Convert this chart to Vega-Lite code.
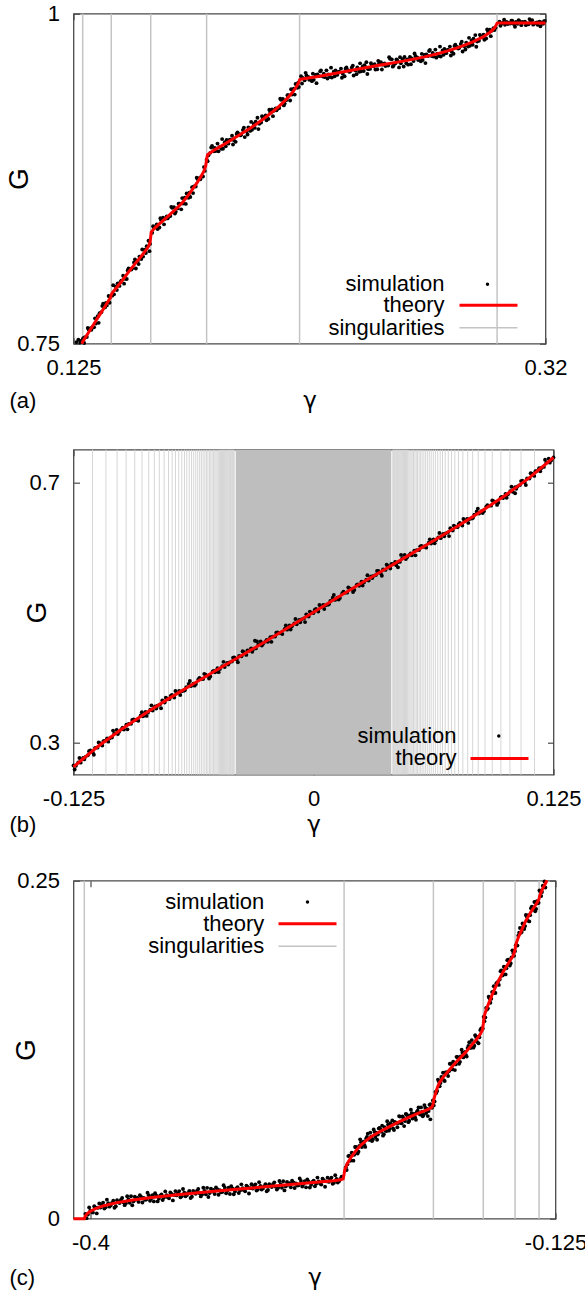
{
  "$schema": "https://vega.github.io/schema/vega-lite/v6.json",
  "background": "white",
  "padding": {"left": 4.5, "top": 1.7, "right": 0, "bottom": 0},
  "bounds": "flush",
  "spacing": 106,
  "resolve": {"scale": {"color": "independent"}, "legend": {"color": "independent"}},
  "config": {
    "font": "Liberation Sans",
    "view": {"stroke": "#4a4a4a", "strokeWidth": 1.3},
    "axis": {
      "domain": false, "grid": false,
      "tickColor": "#4a4a4a", "tickSize": -6, "tickWidth": 1.2,
      "labelFont": "Liberation Sans", "labelFontSize": 22, "labelColor": "#000",
      "labelPadding": 20, "labelFlush": false, "labelOverlap": false,
      "titleFont": "Liberation Sans", "titleFontWeight": "normal", "titleColor": "#000"
    },
    "legend": {
      "labelFont": "Liberation Sans", "labelFontSize": 22, "labelColor": "#000",
      "labelAlign": "right", "padding": 0, "title": null, "symbolOpacity": 1
    },
    "title": {"font": "Liberation Sans", "fontSize": 22, "fontWeight": "normal", "color": "#000"}
  },
  "datasets": {
    "sgA": [{"g":0.1288},{"g":0.1406},{"g":0.1569},{"g":0.18},{"g":0.2184},{"g":0.3}],
    "thA": [
      {"g":0.1285,"G":0.75},{"g":0.1288,"G":0.7515},{"g":0.13,"G":0.755},{"g":0.132,"G":0.7608},{"g":0.134,"G":0.7666},{"g":0.136,"G":0.7724},{"g":0.138,"G":0.7782},{"g":0.1395,"G":0.7826},{"g":0.1403,"G":0.785},{"g":0.1406,"G":0.787},
      {"g":0.141,"G":0.7885},{"g":0.143,"G":0.793},{"g":0.145,"G":0.7975},{"g":0.147,"G":0.8025},{"g":0.149,"G":0.8072},{"g":0.151,"G":0.8118},{"g":0.153,"G":0.8163},{"g":0.155,"G":0.821},{"g":0.156,"G":0.8238},{"g":0.1566,"G":0.8265},{"g":0.1569,"G":0.831},
      {"g":0.1571,"G":0.8345},{"g":0.158,"G":0.8365},{"g":0.16,"G":0.84},{"g":0.162,"G":0.8433},{"g":0.164,"G":0.8465},{"g":0.166,"G":0.8498},{"g":0.168,"G":0.8532},{"g":0.17,"G":0.857},{"g":0.172,"G":0.8615},{"g":0.174,"G":0.8665},{"g":0.176,"G":0.8718},{"g":0.1775,"G":0.8762},{"g":0.1788,"G":0.8805},{"g":0.1796,"G":0.8845},{"g":0.18,"G":0.89},
      {"g":0.1804,"G":0.8932},{"g":0.183,"G":0.8965},{"g":0.186,"G":0.8997},{"g":0.189,"G":0.903},{"g":0.192,"G":0.9064},{"g":0.195,"G":0.9098},{"g":0.198,"G":0.9133},{"g":0.201,"G":0.917},{"g":0.204,"G":0.921},{"g":0.207,"G":0.9253},{"g":0.21,"G":0.93},{"g":0.213,"G":0.9353},{"g":0.2155,"G":0.9405},{"g":0.2172,"G":0.945},{"g":0.2181,"G":0.948},{"g":0.2184,"G":0.95},
      {"g":0.2188,"G":0.9504},{"g":0.222,"G":0.9513},{"g":0.226,"G":0.9525},{"g":0.23,"G":0.9538},{"g":0.235,"G":0.9554},{"g":0.24,"G":0.9571},{"g":0.245,"G":0.9588},{"g":0.25,"G":0.9605},{"g":0.255,"G":0.9621},{"g":0.26,"G":0.9637},{"g":0.265,"G":0.9654},{"g":0.27,"G":0.9673},{"g":0.275,"G":0.9695},{"g":0.28,"G":0.972},{"g":0.285,"G":0.975},{"g":0.29,"G":0.9787},{"g":0.294,"G":0.9822},{"g":0.297,"G":0.9858},{"g":0.299,"G":0.9892},{"g":0.3,"G":0.9928},
      {"g":0.3005,"G":0.993},{"g":0.31,"G":0.993},{"g":0.32,"G":0.993}
    ],
    "simA": [
      {"g":0.1262,"G":0.7512},{"g":0.127,"G":0.753},{"g":0.1278,"G":0.7508},{"g":0.1283,"G":0.7522},
      {"g":0.129,"G":0.7542},{"g":0.12975,"G":0.755},{"g":0.1305,"G":0.7551},{"g":0.13125,"G":0.7608},
      {"g":0.132,"G":0.7615},{"g":0.13275,"G":0.7623},{"g":0.1335,"G":0.7624},{"g":0.13425,"G":0.7653},
      {"g":0.135,"G":0.7709},{"g":0.13575,"G":0.7731},{"g":0.1365,"G":0.7739},{"g":0.13725,"G":0.7803},
      {"g":0.138,"G":0.7775},{"g":0.13875,"G":0.779},{"g":0.1395,"G":0.7861},{"g":0.14025,"G":0.7856},
      {"g":0.141,"G":0.7864},{"g":0.14175,"G":0.7874},{"g":0.1425,"G":0.7933},{"g":0.14325,"G":0.7957},
      {"g":0.144,"G":0.7938},{"g":0.14475,"G":0.7977},{"g":0.1455,"G":0.8015},{"g":0.14625,"G":0.7992},
      {"g":0.147,"G":0.799},{"g":0.14775,"G":0.8071},{"g":0.1485,"G":0.8067},{"g":0.14925,"G":0.8071},
      {"g":0.15,"G":0.8116},{"g":0.15075,"G":0.807},{"g":0.1515,"G":0.8122},{"g":0.15225,"G":0.816},
      {"g":0.153,"G":0.8142},{"g":0.15375,"G":0.816},{"g":0.1545,"G":0.8212},{"g":0.15525,"G":0.8239},
      {"g":0.156,"G":0.828},{"g":0.1566,"G":0.8256},{"g":0.1575,"G":0.834},{"g":0.15825,"G":0.8376},
      {"g":0.159,"G":0.8383},{"g":0.15975,"G":0.8368},{"g":0.1605,"G":0.838},{"g":0.16125,"G":0.8435},
      {"g":0.162,"G":0.8454},{"g":0.16275,"G":0.8445},{"g":0.1635,"G":0.8464},{"g":0.16425,"G":0.8462},
      {"g":0.165,"G":0.8467},{"g":0.16575,"G":0.8529},{"g":0.1665,"G":0.8535},{"g":0.16725,"G":0.8499},
      {"g":0.168,"G":0.8525},{"g":0.16875,"G":0.856},{"g":0.1695,"G":0.8518},{"g":0.17025,"G":0.8562},
      {"g":0.171,"G":0.8606},{"g":0.17175,"G":0.8638},{"g":0.1725,"G":0.8606},{"g":0.17325,"G":0.8611},
      {"g":0.174,"G":0.8686},{"g":0.17475,"G":0.8692},{"g":0.1755,"G":0.8691},{"g":0.17625,"G":0.8747},
      {"g":0.177,"G":0.8754},{"g":0.17775,"G":0.8764},{"g":0.1785,"G":0.8767},{"g":0.17925,"G":0.8809},
      {"g":0.18,"G":0.8894},{"g":0.18075,"G":0.8927},{"g":0.1815,"G":0.8946},{"g":0.18225,"G":0.8998},
      {"g":0.183,"G":0.8958},{"g":0.18375,"G":0.8959},{"g":0.1845,"G":0.9016},{"g":0.18525,"G":0.8989},
      {"g":0.186,"G":0.8976},{"g":0.18675,"G":0.8977},{"g":0.1875,"G":0.9027},{"g":0.18825,"G":0.9043},
      {"g":0.189,"G":0.9016},{"g":0.18975,"G":0.9046},{"g":0.1905,"G":0.9075},{"g":0.19125,"G":0.9042},
      {"g":0.192,"G":0.9029},{"g":0.19275,"G":0.9101},{"g":0.1935,"G":0.9088},{"g":0.19425,"G":0.9083},
      {"g":0.195,"G":0.9119},{"g":0.19575,"G":0.9065},{"g":0.1965,"G":0.9108},{"g":0.19725,"G":0.9138},
      {"g":0.198,"G":0.9112},{"g":0.19875,"G":0.9121},{"g":0.1995,"G":0.9165},{"g":0.20025,"G":0.9182},
      {"g":0.201,"G":0.9212},{"g":0.20175,"G":0.9166},{"g":0.2025,"G":0.9176},{"g":0.20325,"G":0.9207},
      {"g":0.204,"G":0.921},{"g":0.20475,"G":0.9193},{"g":0.2055,"G":0.9203},{"g":0.20625,"G":0.9256},
      {"g":0.207,"G":0.9274},{"g":0.20775,"G":0.9265},{"g":0.2085,"G":0.9283},{"g":0.20925,"G":0.9281},
      {"g":0.21,"G":0.9286},{"g":0.21075,"G":0.9348},{"g":0.2115,"G":0.9354},{"g":0.21225,"G":0.9319},
      {"g":0.213,"G":0.9346},{"g":0.21375,"G":0.9383},{"g":0.2145,"G":0.9342},{"g":0.21525,"G":0.9387},
      {"g":0.216,"G":0.9432},{"g":0.21675,"G":0.9467},{"g":0.2175,"G":0.9439},{"g":0.2181,"G":0.9445},
      {"g":0.219,"G":0.9526},{"g":0.21975,"G":0.9514},{"g":0.2205,"G":0.9495},{"g":0.22125,"G":0.9532},
      {"g":0.222,"G":0.952},{"g":0.22275,"G":0.9508},{"g":0.2235,"G":0.9489},{"g":0.22425,"G":0.9499},
      {"g":0.225,"G":0.9536},{"g":0.22575,"G":0.9539},{"g":0.2265,"G":0.9527},{"g":0.22725,"G":0.9571},
      {"g":0.228,"G":0.9524},{"g":0.22875,"G":0.952},{"g":0.2295,"G":0.9571},{"g":0.23025,"G":0.9539},
      {"g":0.231,"G":0.952},{"g":0.23175,"G":0.9516},{"g":0.2325,"G":0.956},{"g":0.23325,"G":0.957},
      {"g":0.234,"G":0.9537},{"g":0.23475,"G":0.9561},{"g":0.2355,"G":0.9584},{"g":0.23625,"G":0.9545},
      {"g":0.237,"G":0.9526},{"g":0.23775,"G":0.9592},{"g":0.2385,"G":0.9573},{"g":0.23925,"G":0.9562},
      {"g":0.24,"G":0.9592},{"g":0.24075,"G":0.9532},{"g":0.2415,"G":0.9569},{"g":0.24225,"G":0.9593},
      {"g":0.243,"G":0.956},{"g":0.24375,"G":0.9563},{"g":0.2445,"G":0.96},{"g":0.24525,"G":0.961},
      {"g":0.246,"G":0.9633},{"g":0.24675,"G":0.958},{"g":0.2475,"G":0.9582},{"g":0.24825,"G":0.9606},
      {"g":0.249,"G":0.9602},{"g":0.24975,"G":0.9577},{"g":0.2505,"G":0.9579},{"g":0.25125,"G":0.9623},
      {"g":0.252,"G":0.9632},{"g":0.25275,"G":0.9614},{"g":0.2535,"G":0.9623},{"g":0.25425,"G":0.9612},
      {"g":0.255,"G":0.9607},{"g":0.25575,"G":0.9659},{"g":0.2565,"G":0.9654},{"g":0.25725,"G":0.9608},
      {"g":0.258,"G":0.9624},{"g":0.25875,"G":0.9647},{"g":0.2595,"G":0.9593},{"g":0.26025,"G":0.9624},
      {"g":0.261,"G":0.9655},{"g":0.26175,"G":0.9672},{"g":0.2625,"G":0.9625},{"g":0.26325,"G":0.9614},
      {"g":0.264,"G":0.9672},{"g":0.26475,"G":0.9661},{"g":0.2655,"G":0.9642},{"g":0.26625,"G":0.968},
      {"g":0.267,"G":0.9669},{"g":0.26775,"G":0.9658},{"g":0.2685,"G":0.9639},{"g":0.26925,"G":0.9649},
      {"g":0.27,"G":0.9687},{"g":0.27075,"G":0.9691},{"g":0.2715,"G":0.968},{"g":0.27225,"G":0.9725},
      {"g":0.273,"G":0.9679},{"g":0.27375,"G":0.9676},{"g":0.2745,"G":0.9728},{"g":0.27525,"G":0.9697},
      {"g":0.276,"G":0.9679},{"g":0.27675,"G":0.9676},{"g":0.2775,"G":0.9722},{"g":0.27825,"G":0.9733},
      {"g":0.279,"G":0.9701},{"g":0.27975,"G":0.9726},{"g":0.2805,"G":0.9751},{"g":0.28125,"G":0.9714},
      {"g":0.282,"G":0.9697},{"g":0.28275,"G":0.9765},{"g":0.2835,"G":0.9748},{"g":0.28425,"G":0.9739},
      {"g":0.285,"G":0.9771},{"g":0.28575,"G":0.9714},{"g":0.2865,"G":0.9754},{"g":0.28725,"G":0.9781},
      {"g":0.288,"G":0.9751},{"g":0.28875,"G":0.9757},{"g":0.2895,"G":0.9797},{"g":0.29025,"G":0.9811},
      {"g":0.291,"G":0.9838},{"g":0.29175,"G":0.9789},{"g":0.2925,"G":0.9795},{"g":0.29325,"G":0.9823},
      {"g":0.294,"G":0.9822},{"g":0.29475,"G":0.9803},{"g":0.2955,"G":0.9812},{"g":0.29625,"G":0.9863},
      {"g":0.297,"G":0.9879},{"g":0.29775,"G":0.9871},{"g":0.2985,"G":0.9891},{"g":0.2994,"G":0.9893},
      {"g":0.301,"G":0.994},{"g":0.30175,"G":0.9923},{"g":0.3025,"G":0.9934},{"g":0.30325,"G":0.9916},
      {"g":0.304,"G":0.9937},{"g":0.30475,"G":0.993},{"g":0.3055,"G":0.9926},{"g":0.30625,"G":0.9947},
      {"g":0.307,"G":0.992},{"g":0.30775,"G":0.9937},{"g":0.3085,"G":0.9923},{"g":0.30925,"G":0.9944},
      {"g":0.31,"G":0.9913},{"g":0.31075,"G":0.9934},{"g":0.3115,"G":0.994},{"g":0.31225,"G":0.9926},
      {"g":0.313,"G":0.992},{"g":0.31375,"G":0.9937},{"g":0.3145,"G":0.9951},{"g":0.31525,"G":0.9923},
      {"g":0.316,"G":0.993},{"g":0.31675,"G":0.9916},{"g":0.3175,"G":0.994},{"g":0.31825,"G":0.9934},
      {"g":0.319,"G":0.9923},{"g":0.31975,"G":0.9944},
      {"g":0.1294,"G":0.7505},{"g":0.1309,"G":0.7619},{"g":0.1324,"G":0.7606},{"g":0.1339,"G":0.7692},{"g":0.1354,"G":0.7658},
      {"g":0.1369,"G":0.7786},{"g":0.1384,"G":0.7808},{"g":0.1399,"G":0.781},{"g":0.1414,"G":0.7943},{"g":0.1429,"G":0.7907},
      {"g":0.1444,"G":0.7968},{"g":0.1459,"G":0.7955},{"g":0.1474,"G":0.8055},{"g":0.1489,"G":0.8062},{"g":0.1504,"G":0.8139},
      {"g":0.1519,"G":0.8103},{"g":0.1534,"G":0.8214},{"g":0.1549,"G":0.8187},{"g":0.1564,"G":0.8201},{"g":0.1579,"G":0.839},
      {"g":0.1594,"G":0.8404},{"g":0.1609,"G":0.845},{"g":0.1624,"G":0.8404},{"g":0.1639,"G":0.8449},{"g":0.1654,"G":0.8537},
      {"g":0.1669,"G":0.8486},{"g":0.1684,"G":0.856},{"g":0.1699,"G":0.8603},{"g":0.1714,"G":0.8559},{"g":0.1729,"G":0.8644},
      {"g":0.1744,"G":0.8641},{"g":0.1759,"G":0.8758},{"g":0.1774,"G":0.8746},{"g":0.1789,"G":0.8838},{"g":0.1804,"G":0.8883},
      {"g":0.1819,"G":0.8986},{"g":0.1834,"G":0.8983},{"g":0.1849,"G":0.8957},{"g":0.1864,"G":0.905},{"g":0.1879,"G":0.8996},
      {"g":0.1894,"G":0.9041},{"g":0.1909,"G":0.9009},{"g":0.1924,"G":0.9089},{"g":0.1939,"G":0.9078},{"g":0.1954,"G":0.9137},
      {"g":0.1969,"G":0.9085},{"g":0.1984,"G":0.918},{"g":0.1999,"G":0.9135},{"g":0.2014,"G":0.9126},{"g":0.2029,"G":0.9223},
      {"g":0.2044,"G":0.923},{"g":0.2059,"G":0.9272},{"g":0.2074,"G":0.9224},{"g":0.2089,"G":0.9268},{"g":0.2104,"G":0.9356},
      {"g":0.2119,"G":0.9305},{"g":0.2134,"G":0.9382},{"g":0.2149,"G":0.9428},{"g":0.2164,"G":0.9387},{"g":0.2178,"G":0.9477},
      {"g":0.2194,"G":0.9471},{"g":0.2209,"G":0.9552},{"g":0.2224,"G":0.95},{"g":0.2239,"G":0.9546},{"g":0.2254,"G":0.9474},
      {"g":0.2269,"G":0.9563},{"g":0.2284,"G":0.9546},{"g":0.2299,"G":0.9509},{"g":0.2314,"G":0.9591},{"g":0.2329,"G":0.9526},
      {"g":0.2344,"G":0.9559},{"g":0.2359,"G":0.9515},{"g":0.2374,"G":0.9583},{"g":0.2389,"G":0.956},{"g":0.2404,"G":0.9607},
      {"g":0.2419,"G":0.9542},{"g":0.2434,"G":0.9624},{"g":0.2449,"G":0.9566},{"g":0.2464,"G":0.9543},{"g":0.2479,"G":0.9625},
      {"g":0.2494,"G":0.9617},{"g":0.2509,"G":0.9643},{"g":0.2524,"G":0.9577},{"g":0.2539,"G":0.9603},{"g":0.2554,"G":0.9671},
      {"g":0.2569,"G":0.9599},{"g":0.2584,"G":0.9653},{"g":0.2599,"G":0.9671},{"g":0.2614,"G":0.96},{"g":0.2629,"G":0.9654},
      {"g":0.2644,"G":0.9617},{"g":0.2659,"G":0.9699},{"g":0.2674,"G":0.9649},{"g":0.2689,"G":0.9696},{"g":0.2704,"G":0.9626},
      {"g":0.2719,"G":0.9717},{"g":0.2734,"G":0.9702},{"g":0.2749,"G":0.9667},{"g":0.2764,"G":0.9751},{"g":0.2779,"G":0.9689},
      {"g":0.2794,"G":0.9724},{"g":0.2809,"G":0.9683},{"g":0.2824,"G":0.9755},{"g":0.2839,"G":0.9736},{"g":0.2854,"G":0.9788},
      {"g":0.2869,"G":0.9729},{"g":0.2884,"G":0.9817},{"g":0.2899,"G":0.9765},{"g":0.2914,"G":0.975},{"g":0.2929,"G":0.984},
      {"g":0.2944,"G":0.9841},{"g":0.2959,"G":0.988},{"g":0.2974,"G":0.983},{"g":0.2989,"G":0.9876},
      {"g":0.3014,"G":0.9909},{"g":0.3029,"G":0.9955},{"g":0.3044,"G":0.9922},{"g":0.3059,"G":0.9947},{"g":0.3074,"G":0.9901},
      {"g":0.3089,"G":0.9951},{"g":0.3104,"G":0.9938},{"g":0.3119,"G":0.9913},{"g":0.3134,"G":0.9959},{"g":0.3149,"G":0.9917},
      {"g":0.3164,"G":0.9934},{"g":0.3179,"G":0.9905},{"g":0.3194,"G":0.9943}
    ],
    "bandB": [{"g0":-0.0405,"g1":0.0405}],
    "sgB": [
      {"g":-0.1151},{"g":-0.1081},{"g":-0.1023},{"g":-0.0976},{"g":-0.0931},{"g":-0.0893},{"g":-0.0858},{"g":-0.0829},{"g":-0.0803},{"g":-0.0778},
      {"g":-0.0755},{"g":-0.0736},{"g":-0.0719},{"g":-0.0702},{"g":-0.0686},{"g":-0.0672},{"g":-0.066},{"g":-0.0647},{"g":-0.0635},{"g":-0.0624},
      {"g":-0.0613},{"g":-0.0603},{"g":-0.0593},{"g":-0.0584},{"g":-0.0575},{"g":-0.0566},{"g":-0.0558},{"g":-0.055},{"g":-0.0542},{"g":-0.0535},
      {"g":-0.0528},{"g":-0.0521},{"g":-0.0514},{"g":-0.0508},{"g":-0.0502},{"g":-0.0496},{"g":-0.049},{"g":-0.0484},{"g":-0.0479},{"g":-0.0474},
      {"g":-0.0469},{"g":-0.0464},{"g":-0.0459},{"g":-0.0454},{"g":-0.0449},{"g":-0.0445},{"g":-0.0441},{"g":-0.0437},{"g":-0.0433},{"g":-0.0429},
      {"g":-0.0425},{"g":-0.0421},{"g":-0.0417},{"g":-0.0413},
      {"g":0.0413},{"g":0.0417},{"g":0.0421},{"g":0.0425},{"g":0.0429},{"g":0.0433},{"g":0.0437},{"g":0.0441},{"g":0.0445},{"g":0.0449},
      {"g":0.0454},{"g":0.0459},{"g":0.0464},{"g":0.0469},{"g":0.0474},{"g":0.0479},{"g":0.0484},{"g":0.049},{"g":0.0496},{"g":0.0502},
      {"g":0.0508},{"g":0.0514},{"g":0.0521},{"g":0.0528},{"g":0.0535},{"g":0.0542},{"g":0.055},{"g":0.0558},{"g":0.0566},{"g":0.0575},
      {"g":0.0584},{"g":0.0593},{"g":0.0603},{"g":0.0613},{"g":0.0624},{"g":0.0635},{"g":0.0647},{"g":0.066},{"g":0.0672},{"g":0.0686},
      {"g":0.0702},{"g":0.0719},{"g":0.0736},{"g":0.0755},{"g":0.0778},{"g":0.0803},{"g":0.0829},{"g":0.0858},{"g":0.0893},{"g":0.0931},
      {"g":0.0976},{"g":0.1023},{"g":0.1081},{"g":0.1151}
    ],
    "thB": [
      {"g":-0.125,"G":0.262},{"g":-0.1125,"G":0.293},{"g":-0.1,"G":0.32},{"g":-0.0875,"G":0.3445},{"g":-0.075,"G":0.3678},{"g":-0.0625,"G":0.39},{"g":-0.05,"G":0.4118},{"g":-0.0375,"G":0.4335},{"g":-0.025,"G":0.455},{"g":-0.0125,"G":0.4775},
      {"g":0,"G":0.5},{"g":0.0125,"G":0.5225},{"g":0.025,"G":0.545},{"g":0.0375,"G":0.5665},{"g":0.05,"G":0.5882},{"g":0.0625,"G":0.61},{"g":0.075,"G":0.6322},{"g":0.0875,"G":0.6555},{"g":0.1,"G":0.68},{"g":0.1125,"G":0.707},{"g":0.125,"G":0.738}
    ],
    "simB": [
      {"g":-0.125,"G":0.2641},{"g":-0.12375,"G":0.2637},{"g":-0.1225,"G":0.2689},{"g":-0.12125,"G":0.2685},{"g":-0.12,"G":0.2758},{"g":-0.11875,"G":0.2775},{"g":-0.1175,"G":0.2799},{"g":-0.11625,"G":0.2872},{"g":-0.115,"G":0.2847},{"g":-0.11375,"G":0.2913},
      {"g":-0.1125,"G":0.2916},{"g":-0.11125,"G":0.2985},{"g":-0.11,"G":0.2949},{"g":-0.10875,"G":0.3018},{"g":-0.1075,"G":0.3059},{"g":-0.10625,"G":0.3058},{"g":-0.105,"G":0.3071},{"g":-0.10375,"G":0.3133},{"g":-0.1025,"G":0.3188},{"g":-0.10125,"G":0.3159},
      {"g":-0.1,"G":0.32},{"g":-0.09875,"G":0.3196},{"g":-0.0975,"G":0.327},{"g":-0.09625,"G":0.328},{"g":-0.095,"G":0.3284},{"g":-0.09375,"G":0.335},{"g":-0.0925,"G":0.334},{"g":-0.09125,"G":0.3329},{"g":-0.09,"G":0.341},{"g":-0.08875,"G":0.3399},
      {"g":-0.0875,"G":0.3466},{"g":-0.08625,"G":0.3454},{"g":-0.085,"G":0.3499},{"g":-0.08375,"G":0.3487},{"g":-0.0825,"G":0.3552},{"g":-0.08125,"G":0.3561},{"g":-0.08,"G":0.3578},{"g":-0.07875,"G":0.3643},{"g":-0.0775,"G":0.361},{"g":-0.07625,"G":0.3668},
      {"g":-0.075,"G":0.3664},{"g":-0.07375,"G":0.3728},{"g":-0.0725,"G":0.3687},{"g":-0.07125,"G":0.3751},{"g":-0.07,"G":0.3788},{"g":-0.06875,"G":0.3782},{"g":-0.0675,"G":0.379},{"g":-0.06625,"G":0.3847},{"g":-0.065,"G":0.3898},{"g":-0.06375,"G":0.3864},
      {"g":-0.0625,"G":0.39},{"g":-0.06125,"G":0.3894},{"g":-0.06,"G":0.3965},{"g":-0.05875,"G":0.3972},{"g":-0.0575,"G":0.3973},{"g":-0.05625,"G":0.4037},{"g":-0.055,"G":0.4024},{"g":-0.05375,"G":0.401},{"g":-0.0525,"G":0.4088},{"g":-0.05125,"G":0.4075},
      {"g":-0.05,"G":0.4139},{"g":-0.04875,"G":0.4125},{"g":-0.0475,"G":0.4168},{"g":-0.04625,"G":0.4155},{"g":-0.045,"G":0.4219},{"g":-0.04375,"G":0.4226},{"g":-0.0425,"G":0.4241},{"g":-0.04125,"G":0.4305},{"g":-0.04,"G":0.4271},{"g":-0.03875,"G":0.4327},
      {"g":-0.0375,"G":0.4321},{"g":-0.03625,"G":0.4384},{"g":-0.035,"G":0.4343},{"g":-0.03375,"G":0.4406},{"g":-0.0325,"G":0.4442},{"g":-0.03125,"G":0.4435},{"g":-0.03,"G":0.4443},{"g":-0.02875,"G":0.4499},{"g":-0.0275,"G":0.4549},{"g":-0.02625,"G":0.4514},
      {"g":-0.025,"G":0.455},{"g":-0.02375,"G":0.4544},{"g":-0.0225,"G":0.4616},{"g":-0.02125,"G":0.4624},{"g":-0.02,"G":0.4626},{"g":-0.01875,"G":0.469},{"g":-0.0175,"G":0.4678},{"g":-0.01625,"G":0.4665},{"g":-0.015,"G":0.4744},{"g":-0.01375,"G":0.4731},
      {"g":-0.0125,"G":0.4796},{"g":-0.01125,"G":0.4783},{"g":-0.01,"G":0.4827},{"g":-0.00875,"G":0.4814},{"g":-0.0075,"G":0.4879},{"g":-0.00625,"G":0.4887},{"g":-0.005,"G":0.4903},{"g":-0.00375,"G":0.4967},{"g":-0.0025,"G":0.4934},{"g":-0.00125,"G":0.4991},
      {"g":0,"G":0.4986},{"g":0.00125,"G":0.5051},{"g":0.0025,"G":0.501},{"g":0.00375,"G":0.5075},{"g":0.005,"G":0.5111},{"g":0.00625,"G":0.5106},{"g":0.0075,"G":0.5114},{"g":0.00875,"G":0.5172},{"g":0.01,"G":0.5222},{"g":0.01125,"G":0.5189},
      {"g":0.0125,"G":0.5225},{"g":0.01375,"G":0.522},{"g":0.015,"G":0.5291},{"g":0.01625,"G":0.53},{"g":0.0175,"G":0.5301},{"g":0.01875,"G":0.5366},{"g":0.02,"G":0.5353},{"g":0.02125,"G":0.5341},{"g":0.0225,"G":0.5419},{"g":0.02375,"G":0.5407},
      {"g":0.025,"G":0.5471},{"g":0.02625,"G":0.5458},{"g":0.0275,"G":0.55},{"g":0.02875,"G":0.5487},{"g":0.03,"G":0.555},{"g":0.03125,"G":0.5558},{"g":0.0325,"G":0.5572},{"g":0.03375,"G":0.5636},{"g":0.035,"G":0.5601},{"g":0.03625,"G":0.5658},
      {"g":0.0375,"G":0.5651},{"g":0.03875,"G":0.5715},{"g":0.04,"G":0.5673},{"g":0.04125,"G":0.5737},{"g":0.0425,"G":0.5773},{"g":0.04375,"G":0.5767},{"g":0.045,"G":0.5774},{"g":0.04625,"G":0.5831},{"g":0.0475,"G":0.5881},{"g":0.04875,"G":0.5847},
      {"g":0.05,"G":0.5882},{"g":0.05125,"G":0.5876},{"g":0.0525,"G":0.5947},{"g":0.05375,"G":0.5955},{"g":0.055,"G":0.5955},{"g":0.05625,"G":0.6019},{"g":0.0575,"G":0.6006},{"g":0.05875,"G":0.5993},{"g":0.06,"G":0.607},{"g":0.06125,"G":0.6057},
      {"g":0.0625,"G":0.6121},{"g":0.06375,"G":0.6108},{"g":0.065,"G":0.6151},{"g":0.06625,"G":0.6139},{"g":0.0675,"G":0.6203},{"g":0.06875,"G":0.6211},{"g":0.07,"G":0.6226},{"g":0.07125,"G":0.6291},{"g":0.0725,"G":0.6257},{"g":0.07375,"G":0.6314},
      {"g":0.075,"G":0.6308},{"g":0.07625,"G":0.6374},{"g":0.0775,"G":0.6334},{"g":0.07875,"G":0.6399},{"g":0.08,"G":0.6436},{"g":0.08125,"G":0.6432},{"g":0.0825,"G":0.6441},{"g":0.08375,"G":0.6499},{"g":0.085,"G":0.655},{"g":0.08625,"G":0.6518},
      {"g":0.0875,"G":0.6555},{"g":0.08875,"G":0.6552},{"g":0.09,"G":0.6625},{"g":0.09125,"G":0.6636},{"g":0.0925,"G":0.6639},{"g":0.09375,"G":0.6706},{"g":0.095,"G":0.6695},{"g":0.09625,"G":0.6685},{"g":0.0975,"G":0.6765},{"g":0.09875,"G":0.6755},
      {"g":0.1,"G":0.6821},{"g":0.10125,"G":0.6813},{"g":0.1025,"G":0.6861},{"g":0.10375,"G":0.6853},{"g":0.105,"G":0.6922},{"g":0.10625,"G":0.6935},{"g":0.1075,"G":0.6955},{"g":0.10875,"G":0.7024},{"g":0.11,"G":0.6995},{"g":0.11125,"G":0.7057},
      {"g":0.1125,"G":0.7056},{"g":0.11375,"G":0.7129},{"g":0.115,"G":0.7097},{"g":0.11625,"G":0.717},{"g":0.1175,"G":0.7215},{"g":0.11875,"G":0.7218},{"g":0.12,"G":0.7235},{"g":0.12125,"G":0.7301},{"g":0.1225,"G":0.736},{"g":0.12375,"G":0.7335},
      {"g":0.125,"G":0.738},{"g":-0.0305,"G":0.456},{"g":0.044,"G":0.569},{"g":0.105,"G":0.683},
      {"g":-0.1244,"G":0.2579},{"g":-0.1219,"G":0.2757},{"g":-0.1194,"G":0.2735},{"g":-0.1169,"G":0.286},{"g":-0.1144,"G":0.2806},{"g":-0.1119,"G":0.2995},{"g":-0.1094,"G":0.3017},{"g":-0.1069,"G":0.3008},{"g":-0.1044,"G":0.3178},{"g":-0.1019,"G":0.3126},
      {"g":-0.0994,"G":0.3223},{"g":-0.0969,"G":0.3198},{"g":-0.0944,"G":0.3342},{"g":-0.0919,"G":0.3348},{"g":-0.0894,"G":0.3461},{"g":-0.0869,"G":0.3404},{"g":-0.0844,"G":0.3567},{"g":-0.0819,"G":0.3518},{"g":-0.0794,"G":0.3523},{"g":-0.0769,"G":0.3685},
      {"g":-0.0744,"G":0.3711},{"g":-0.0719,"G":0.3787},{"g":-0.0694,"G":0.3726},{"g":-0.0669,"G":0.3802},{"g":-0.0644,"G":0.3942},{"g":-0.0619,"G":0.387},{"g":-0.0594,"G":0.3988},{"g":-0.0569,"G":0.4052},{"g":-0.0544,"G":0.398},{"g":-0.0519,"G":0.4097},
      {"g":-0.0494,"G":0.4077},{"g":-0.0469,"G":0.4236},{"g":-0.0444,"G":0.4196},{"g":-0.0419,"G":0.4302},{"g":-0.0394,"G":0.423},{"g":-0.0369,"G":0.44},{"g":-0.0344,"G":0.4411},{"g":-0.0319,"G":0.4391},{"g":-0.0294,"G":0.455},{"g":-0.0269,"G":0.4487},
      {"g":-0.0244,"G":0.4573},{"g":-0.0219,"G":0.4544},{"g":-0.0194,"G":0.4684},{"g":-0.0169,"G":0.4686},{"g":-0.0144,"G":0.4795},{"g":-0.0119,"G":0.4734},{"g":-0.0094,"G":0.4895},{"g":-0.0069,"G":0.4845},{"g":-0.0044,"G":0.4848},{"g":-0.0019,"G":0.5009},
      {"g":0.0006,"G":0.5033},{"g":0.0031,"G":0.511},{"g":0.0056,"G":0.5049},{"g":0.0081,"G":0.5126},{"g":0.0106,"G":0.5266},{"g":0.0131,"G":0.5195},{"g":0.0156,"G":0.5314},{"g":0.0181,"G":0.538},{"g":0.0206,"G":0.5309},{"g":0.0231,"G":0.5428},
      {"g":0.0256,"G":0.5409},{"g":0.0281,"G":0.5568},{"g":0.0306,"G":0.5527},{"g":0.0331,"G":0.5633},{"g":0.0356,"G":0.556},{"g":0.0381,"G":0.573},{"g":0.0406,"G":0.5741},{"g":0.0431,"G":0.5722},{"g":0.0456,"G":0.5881},{"g":0.0481,"G":0.5819},
      {"g":0.0506,"G":0.5905},{"g":0.0531,"G":0.5875},{"g":0.0556,"G":0.6013},{"g":0.0581,"G":0.6014},{"g":0.0606,"G":0.6121},{"g":0.0631,"G":0.6059},{"g":0.0656,"G":0.6219},{"g":0.0681,"G":0.6169},{"g":0.0706,"G":0.6171},{"g":0.0731,"G":0.6332},
      {"g":0.0756,"G":0.6355},{"g":0.0781,"G":0.6434},{"g":0.0806,"G":0.6374},{"g":0.0831,"G":0.6453},{"g":0.0856,"G":0.6594},{"g":0.0881,"G":0.6525},{"g":0.0906,"G":0.6648},{"g":0.0931,"G":0.6718},{"g":0.0956,"G":0.6651},{"g":0.0981,"G":0.6774},
      {"g":0.1006,"G":0.676},{"g":0.1031,"G":0.693},{"g":0.1056,"G":0.69},{"g":0.1081,"G":0.7017},{"g":0.1106,"G":0.6955},{"g":0.1131,"G":0.7138},{"g":0.1156,"G":0.7168},{"g":0.1181,"G":0.7167},{"g":0.1206,"G":0.7345},{"g":0.1231,"G":0.7301}
    ],
    "sgC": [{"g":-0.4036},{"g":-0.25},{"g":-0.1972},{"g":-0.1677},{"g":-0.1489},{"g":-0.1347}],
    "thC": [
      {"g":-0.41,"G":0},{"g":-0.4036,"G":0},{"g":-0.403,"G":0.002},{"g":-0.402,"G":0.0036},{"g":-0.4,"G":0.0055},{"g":-0.397,"G":0.0074},{"g":-0.392,"G":0.0096},{"g":-0.385,"G":0.0117},{"g":-0.375,"G":0.0138},{"g":-0.365,"G":0.0155},
      {"g":-0.35,"G":0.0176},{"g":-0.33,"G":0.0199},{"g":-0.31,"G":0.0221},{"g":-0.29,"G":0.0243},{"g":-0.27,"G":0.0265},{"g":-0.256,"G":0.0281},{"g":-0.2515,"G":0.029},{"g":-0.2505,"G":0.0296},{"g":-0.25,"G":0.033},{"g":-0.2496,"G":0.0362},
      {"g":-0.248,"G":0.041},{"g":-0.2458,"G":0.0456},{"g":-0.243,"G":0.0503},{"g":-0.2402,"G":0.0543},{"g":-0.237,"G":0.0578},{"g":-0.2336,"G":0.061},{"g":-0.228,"G":0.065},{"g":-0.2225,"G":0.0685},{"g":-0.217,"G":0.072},{"g":-0.2114,"G":0.0752},
      {"g":-0.206,"G":0.078},{"g":-0.2003,"G":0.0808},{"g":-0.1981,"G":0.0825},{"g":-0.1974,"G":0.0845},{"g":-0.197,"G":0.088},{"g":-0.1963,"G":0.091},{"g":-0.195,"G":0.0965},{"g":-0.1937,"G":0.1005},{"g":-0.1915,"G":0.1045},{"g":-0.1892,"G":0.1079},
      {"g":-0.184,"G":0.1155},{"g":-0.1782,"G":0.123},{"g":-0.175,"G":0.1278},{"g":-0.1715,"G":0.1329},{"g":-0.1695,"G":0.1365},{"g":-0.1682,"G":0.1395},{"g":-0.1677,"G":0.144},{"g":-0.1672,"G":0.1495},{"g":-0.166,"G":0.1545},{"g":-0.1627,"G":0.165},
      {"g":-0.1595,"G":0.174},{"g":-0.156,"G":0.1825},{"g":-0.1525,"G":0.1897},{"g":-0.15,"G":0.1945},{"g":-0.149,"G":0.1985},{"g":-0.1484,"G":0.203},{"g":-0.147,"G":0.208},{"g":-0.145,"G":0.2135},{"g":-0.1427,"G":0.22},{"g":-0.1395,"G":0.227},
      {"g":-0.136,"G":0.2335},{"g":-0.1348,"G":0.2362},{"g":-0.1343,"G":0.239},{"g":-0.133,"G":0.243},{"g":-0.1305,"G":0.249},{"g":-0.13,"G":0.2502}
    ],
    "simC": [
      {"g":-0.403,"G":0.0035},{"g":-0.4015,"G":0.0031},{"g":-0.4,"G":0.006},{"g":-0.3985,"G":0.0045},{"g":-0.397,"G":0.0084},{"g":-0.3955,"G":0.0081},{"g":-0.394,"G":0.0082},{"g":-0.3925,"G":0.0119},{"g":-0.391,"G":0.0084},{"g":-0.3895,"G":0.0114},
      {"g":-0.388,"G":0.0098},{"g":-0.3865,"G":0.0133},{"g":-0.385,"G":0.0092},{"g":-0.3835,"G":0.0125},{"g":-0.382,"G":0.0138},{"g":-0.3805,"G":0.0121},{"g":-0.379,"G":0.0115},{"g":-0.3775,"G":0.0143},{"g":-0.376,"G":0.0166},{"g":-0.3745,"G":0.0129},
      {"g":-0.373,"G":0.0141},{"g":-0.3715,"G":0.0124},{"g":-0.37,"G":0.0161},{"g":-0.3685,"G":0.0154},{"g":-0.367,"G":0.0142},{"g":-0.3655,"G":0.0174},{"g":-0.364,"G":0.0151},{"g":-0.3625,"G":0.0128},{"g":-0.361,"G":0.0171},{"g":-0.3595,"G":0.0148},
      {"g":-0.358,"G":0.018},{"g":-0.3565,"G":0.0157},{"g":-0.355,"G":0.0174},{"g":-0.3535,"G":0.0151},{"g":-0.352,"G":0.0183},{"g":-0.3505,"G":0.0175},{"g":-0.349,"G":0.0172},{"g":-0.3475,"G":0.0204},{"g":-0.346,"G":0.0166},{"g":-0.3445,"G":0.0192},
      {"g":-0.343,"G":0.0174},{"g":-0.3415,"G":0.0206},{"g":-0.34,"G":0.0163},{"g":-0.3385,"G":0.0194},{"g":-0.337,"G":0.0206},{"g":-0.3355,"G":0.0188},{"g":-0.334,"G":0.0179},{"g":-0.3325,"G":0.0206},{"g":-0.331,"G":0.0228},{"g":-0.3295,"G":0.019},
      {"g":-0.328,"G":0.0201},{"g":-0.3265,"G":0.0183},{"g":-0.325,"G":0.0219},{"g":-0.3235,"G":0.0211},{"g":-0.322,"G":0.0198},{"g":-0.3205,"G":0.0229},{"g":-0.319,"G":0.0206},{"g":-0.3175,"G":0.0183},{"g":-0.316,"G":0.0224},{"g":-0.3145,"G":0.0201},
      {"g":-0.313,"G":0.0233},{"g":-0.3115,"G":0.0209},{"g":-0.31,"G":0.0226},{"g":-0.3085,"G":0.0203},{"g":-0.307,"G":0.0234},{"g":-0.3055,"G":0.0226},{"g":-0.304,"G":0.0223},{"g":-0.3025,"G":0.0254},{"g":-0.301,"G":0.0216},{"g":-0.2995,"G":0.0242},
      {"g":-0.298,"G":0.0224},{"g":-0.2965,"G":0.0256},{"g":-0.295,"G":0.0213},{"g":-0.2935,"G":0.0244},{"g":-0.292,"G":0.0256},{"g":-0.2905,"G":0.0237},{"g":-0.289,"G":0.0229},{"g":-0.2875,"G":0.0256},{"g":-0.286,"G":0.0277},{"g":-0.2845,"G":0.0239},
      {"g":-0.283,"G":0.0251},{"g":-0.2815,"G":0.0232},{"g":-0.28,"G":0.0269},{"g":-0.2785,"G":0.0261},{"g":-0.277,"G":0.0247},{"g":-0.2755,"G":0.0279},{"g":-0.274,"G":0.0256},{"g":-0.2725,"G":0.0232},{"g":-0.271,"G":0.0274},{"g":-0.2695,"G":0.0251},
      {"g":-0.268,"G":0.0282},{"g":-0.2665,"G":0.0259},{"g":-0.265,"G":0.0276},{"g":-0.2635,"G":0.0252},{"g":-0.262,"G":0.0284},{"g":-0.2605,"G":0.0276},{"g":-0.259,"G":0.0272},{"g":-0.2575,"G":0.0304},{"g":-0.256,"G":0.0266},{"g":-0.2545,"G":0.0294},
      {"g":-0.253,"G":0.0277},{"g":-0.2515,"G":0.031},
      {"g":-0.249,"G":0.038},{"g":-0.248,"G":0.0403},{"g":-0.247,"G":0.0466},{"g":-0.246,"G":0.0431},{"g":-0.245,"G":0.0483},{"g":-0.244,"G":0.0472},{"g":-0.243,"G":0.0531},{"g":-0.242,"G":0.0482},{"g":-0.241,"G":0.0538},{"g":-0.24,"G":0.0566},
      {"g":-0.239,"G":0.0549},{"g":-0.238,"G":0.0546},{"g":-0.237,"G":0.0592},{"g":-0.236,"G":0.0629},{"g":-0.235,"G":0.0583},{"g":-0.234,"G":0.0606},{"g":-0.233,"G":0.0586},{"g":-0.232,"G":0.0642},{"g":-0.231,"G":0.0636},{"g":-0.23,"G":0.0622},
      {"g":-0.229,"G":0.0671},{"g":-0.228,"G":0.0643},{"g":-0.227,"G":0.0614},{"g":-0.226,"G":0.0677},{"g":-0.225,"G":0.0648},{"g":-0.224,"G":0.0696},{"g":-0.223,"G":0.0668},{"g":-0.222,"G":0.0695},{"g":-0.221,"G":0.0667},{"g":-0.22,"G":0.0715},
      {"g":-0.219,"G":0.0707},{"g":-0.218,"G":0.0707},{"g":-0.217,"G":0.0755},{"g":-0.216,"G":0.0705},{"g":-0.215,"G":0.0745},{"g":-0.214,"G":0.0723},{"g":-0.213,"G":0.0771},{"g":-0.212,"G":0.0714},{"g":-0.211,"G":0.0761},{"g":-0.21,"G":0.078},
      {"g":-0.209,"G":0.0757},{"g":-0.208,"G":0.0749},{"g":-0.207,"G":0.0789},{"g":-0.206,"G":0.0822},{"g":-0.205,"G":0.0771},{"g":-0.204,"G":0.079},{"g":-0.203,"G":0.0767},{"g":-0.202,"G":0.0821},{"g":-0.201,"G":0.0812},{"g":-0.2,"G":0.0796},
      {"g":-0.199,"G":0.0846},{"g":-0.198,"G":0.0821},{"g":-0.197,"G":0.0838},{"g":-0.196,"G":0.0937},{"g":-0.195,"G":0.0944},{"g":-0.194,"G":0.1017},{"g":-0.193,"G":0.1004},{"g":-0.192,"G":0.1043},{"g":-0.191,"G":0.1024},{"g":-0.19,"G":0.1081},
      {"g":-0.189,"G":0.1082},{"g":-0.188,"G":0.109},{"g":-0.187,"G":0.1146},{"g":-0.186,"G":0.1105},{"g":-0.185,"G":0.1154},{"g":-0.184,"G":0.1141},{"g":-0.183,"G":0.1196},{"g":-0.182,"G":0.1146},{"g":-0.181,"G":0.1201},{"g":-0.18,"G":0.1228},
      {"g":-0.179,"G":0.1213},{"g":-0.178,"G":0.1212},{"g":-0.177,"G":0.1262},{"g":-0.176,"G":0.1305},{"g":-0.175,"G":0.1264},{"g":-0.174,"G":0.1293},{"g":-0.173,"G":0.1279},{"g":-0.172,"G":0.1343},{"g":-0.171,"G":0.1345},{"g":-0.17,"G":0.1342},
      {"g":-0.169,"G":0.1405},{"g":-0.168,"G":0.1406},{"g":-0.167,"G":0.1461},{"g":-0.166,"G":0.1559},{"g":-0.165,"G":0.1556},{"g":-0.164,"G":0.163},{"g":-0.163,"G":0.1626},{"g":-0.162,"G":0.1677},{"g":-0.161,"G":0.167},{"g":-0.16,"G":0.174},
      {"g":-0.159,"G":0.1752},{"g":-0.158,"G":0.1769},{"g":-0.157,"G":0.1836},{"g":-0.156,"G":0.1804},{"g":-0.155,"G":0.186},{"g":-0.154,"G":0.1852},{"g":-0.153,"G":0.1915},{"g":-0.152,"G":0.1872},{"g":-0.151,"G":0.1933},{"g":-0.15,"G":0.1966},
      {"g":-0.149,"G":0.1978},{"g":-0.148,"G":0.2023},{"g":-0.147,"G":0.2094},{"g":-0.146,"G":0.215},{"g":-0.145,"G":0.2121},{"g":-0.144,"G":0.2163},{"g":-0.143,"G":0.2164},{"g":-0.142,"G":0.2236},{"g":-0.141,"G":0.2244},{"g":-0.14,"G":0.2245},
      {"g":-0.139,"G":0.2307},{"g":-0.138,"G":0.2291},{"g":-0.137,"G":0.2274},{"g":-0.136,"G":0.2349},{"g":-0.135,"G":0.2337},{"g":-0.134,"G":0.242},{"g":-0.133,"G":0.2416},{"g":-0.132,"G":0.2461},{"g":-0.131,"G":0.245},
      {"g":-0.199,"G":0.0735},
      {"g":-0.40225,"G":0.0004},{"g":-0.40075,"G":0.0083},{"g":-0.39925,"G":0.0049},{"g":-0.39775,"G":0.0092},{"g":-0.39625,"G":0.0039},{"g":-0.39475,"G":0.0112},{"g":-0.39325,"G":0.0102},{"g":-0.39175,"G":0.0075},{"g":-0.39025,"G":0.0141},{"g":-0.38875,"G":0.0089},
      {"g":-0.38725,"G":0.0117},{"g":-0.38575,"G":0.0081},{"g":-0.38425,"G":0.0136},{"g":-0.38275,"G":0.0116},{"g":-0.38125,"G":0.0153},{"g":-0.37975,"G":0.01},{"g":-0.37825,"G":0.0166},{"g":-0.37675,"G":0.0118},{"g":-0.37525,"G":0.0099},{"g":-0.37375,"G":0.0162},
      {"g":-0.37225,"G":0.0154},{"g":-0.37075,"G":0.0173},{"g":-0.36925,"G":0.012},{"g":-0.36775,"G":0.014},{"g":-0.36625,"G":0.0192},{"g":-0.36475,"G":0.0133},{"g":-0.36325,"G":0.0174},{"g":-0.36175,"G":0.0188},{"g":-0.36025,"G":0.0128},{"g":-0.35875,"G":0.017},
      {"g":-0.35725,"G":0.0138},{"g":-0.35575,"G":0.0202},{"g":-0.35425,"G":0.0159},{"g":-0.35275,"G":0.0194},{"g":-0.35125,"G":0.0135},{"g":-0.34975,"G":0.0204},{"g":-0.34825,"G":0.0189},{"g":-0.34675,"G":0.0158},{"g":-0.34525,"G":0.022},{"g":-0.34375,"G":0.0166},
      {"g":-0.34225,"G":0.0191},{"g":-0.34075,"G":0.0153},{"g":-0.33925,"G":0.0205},{"g":-0.33775,"G":0.0184},{"g":-0.33625,"G":0.022},{"g":-0.33475,"G":0.0165},{"g":-0.33325,"G":0.0229},{"g":-0.33175,"G":0.018},{"g":-0.33025,"G":0.016},{"g":-0.32875,"G":0.0222},
      {"g":-0.32725,"G":0.0213},{"g":-0.32575,"G":0.0231},{"g":-0.32425,"G":0.0177},{"g":-0.32275,"G":0.0196},{"g":-0.32125,"G":0.0247},{"g":-0.31975,"G":0.0188},{"g":-0.31825,"G":0.0229},{"g":-0.31675,"G":0.0241},{"g":-0.31525,"G":0.0181},{"g":-0.31375,"G":0.0223},
      {"g":-0.31225,"G":0.019},{"g":-0.31075,"G":0.0254},{"g":-0.30925,"G":0.0211},{"g":-0.30775,"G":0.0245},{"g":-0.30625,"G":0.0186},{"g":-0.30475,"G":0.0255},{"g":-0.30325,"G":0.0239},{"g":-0.30175,"G":0.0208},{"g":-0.30025,"G":0.027},{"g":-0.29875,"G":0.0216},
      {"g":-0.29725,"G":0.0241},{"g":-0.29575,"G":0.0203},{"g":-0.29425,"G":0.0255},{"g":-0.29275,"G":0.0234},{"g":-0.29125,"G":0.0269},{"g":-0.28975,"G":0.0215},{"g":-0.28825,"G":0.0279},{"g":-0.28675,"G":0.0229},{"g":-0.28525,"G":0.0209},{"g":-0.28375,"G":0.0272},
      {"g":-0.28225,"G":0.0262},{"g":-0.28075,"G":0.0281},{"g":-0.27925,"G":0.0227},{"g":-0.27775,"G":0.0245},{"g":-0.27625,"G":0.0297},{"g":-0.27475,"G":0.0238},{"g":-0.27325,"G":0.0278},{"g":-0.27175,"G":0.0291},{"g":-0.27025,"G":0.0231},{"g":-0.26875,"G":0.0272},
      {"g":-0.26725,"G":0.024},{"g":-0.26575,"G":0.0304},{"g":-0.26425,"G":0.026},{"g":-0.26275,"G":0.0295},{"g":-0.26125,"G":0.0236},{"g":-0.25975,"G":0.0304},{"g":-0.25825,"G":0.0289},{"g":-0.25675,"G":0.0258},{"g":-0.25525,"G":0.0321},{"g":-0.25375,"G":0.0268},
      {"g":-0.25225,"G":0.0294},
      {"g":-0.2485,"G":0.036},{"g":-0.2475,"G":0.0463},{"g":-0.2465,"G":0.0428},{"g":-0.2455,"G":0.0489},{"g":-0.2445,"G":0.0429},{"g":-0.2435,"G":0.053},{"g":-0.2425,"G":0.0524},{"g":-0.2415,"G":0.0496},{"g":-0.2405,"G":0.0587},{"g":-0.2395,"G":0.053},
      {"g":-0.2385,"G":0.0569},{"g":-0.2375,"G":0.0531},{"g":-0.2365,"G":0.0604},{"g":-0.2355,"G":0.0585},{"g":-0.2345,"G":0.0637},{"g":-0.2335,"G":0.0575},{"g":-0.2325,"G":0.066},{"g":-0.2315,"G":0.0604},{"g":-0.2305,"G":0.0584},{"g":-0.2295,"G":0.0668},
      {"g":-0.2285,"G":0.0661},{"g":-0.2275,"G":0.0688},{"g":-0.2265,"G":0.0625},{"g":-0.2255,"G":0.0652},{"g":-0.2245,"G":0.0721},{"g":-0.2235,"G":0.0651},{"g":-0.2225,"G":0.0706},{"g":-0.2215,"G":0.0727},{"g":-0.2205,"G":0.0656},{"g":-0.2195,"G":0.0711},
      {"g":-0.2185,"G":0.0676},{"g":-0.2175,"G":0.0759},{"g":-0.2165,"G":0.0709},{"g":-0.2155,"G":0.0757},{"g":-0.2145,"G":0.0685},{"g":-0.2135,"G":0.0775},{"g":-0.2125,"G":0.076},{"g":-0.2115,"G":0.0724},{"g":-0.2105,"G":0.0806},{"g":-0.2095,"G":0.0741},
      {"g":-0.2085,"G":0.0774},{"g":-0.2075,"G":0.0731},{"g":-0.2065,"G":0.0799},{"g":-0.2055,"G":0.0776},{"g":-0.2045,"G":0.0823},{"g":-0.2035,"G":0.0758},{"g":-0.2025,"G":0.084},{"g":-0.2015,"G":0.0782},{"g":-0.2005,"G":0.0759},{"g":-0.1995,"G":0.0842},
      {"g":-0.1985,"G":0.0837},{"g":-0.1975,"G":0.0875},{"g":-0.1965,"G":0.0867},{"g":-0.1955,"G":0.093},{"g":-0.1945,"G":0.1029},{"g":-0.1935,"G":0.0979},{"g":-0.1925,"G":0.1048},{"g":-0.1915,"G":0.1079},{"g":-0.1905,"G":0.1018},{"g":-0.1895,"G":0.1082},
      {"g":-0.1885,"G":0.1055},{"g":-0.1875,"G":0.1146},{"g":-0.1865,"G":0.1105},{"g":-0.1855,"G":0.1161},{"g":-0.1845,"G":0.1099},{"g":-0.1835,"G":0.1197},{"g":-0.1825,"G":0.1189},{"g":-0.1815,"G":0.116},{"g":-0.1805,"G":0.125},{"g":-0.1795,"G":0.1193},
      {"g":-0.1785,"G":0.1234},{"g":-0.1775,"G":0.1199},{"g":-0.1765,"G":0.1277},{"g":-0.1755,"G":0.1264},{"g":-0.1745,"G":0.1321},{"g":-0.1735,"G":0.1265},{"g":-0.1725,"G":0.1357},{"g":-0.1715,"G":0.1309},{"g":-0.1705,"G":0.1298},{"g":-0.1695,"G":0.1395},
      {"g":-0.1685,"G":0.1409},{"g":-0.1675,"G":0.1493},{"g":-0.1665,"G":0.1489},{"g":-0.1655,"G":0.1547},{"g":-0.1645,"G":0.1642},{"g":-0.1635,"G":0.1597},{"g":-0.1625,"G":0.1676},{"g":-0.1615,"G":0.1719},{"g":-0.1605,"G":0.167},{"g":-0.1595,"G":0.1746},
      {"g":-0.1585,"G":0.1729},{"g":-0.1575,"G":0.1831},{"g":-0.1565,"G":0.1799},{"g":-0.1555,"G":0.1864},{"g":-0.1545,"G":0.1807},{"g":-0.1535,"G":0.1912},{"g":-0.1525,"G":0.1911},{"g":-0.1515,"G":0.1889},{"g":-0.1505,"G":0.1985},{"g":-0.1495,"G":0.1944},
      {"g":-0.1485,"G":0.2022},{"g":-0.1475,"G":0.202},{"g":-0.1465,"G":0.2115},{"g":-0.1455,"G":0.2115},{"g":-0.1445,"G":0.2184},{"g":-0.1435,"G":0.2143},{"g":-0.1425,"G":0.2246},{"g":-0.1415,"G":0.2205},{"g":-0.1405,"G":0.2199},{"g":-0.1395,"G":0.2297},
      {"g":-0.1385,"G":0.2303},{"g":-0.1375,"G":0.2342},{"g":-0.1365,"G":0.2291},{"g":-0.1355,"G":0.2333},{"g":-0.1345,"G":0.2428},{"g":-0.1335,"G":0.2387},{"g":-0.1325,"G":0.2463},{"g":-0.1315,"G":0.2494}
    ]
  },
  "vconcat": [
    {
      "width": 472, "height": 330,
      "title": {"text": "(a)", "orient": "bottom", "anchor": "start", "frame": "group", "offset": 0, "dx": -64, "dy": -22},
      "resolve": {"scale": {"color": "independent"}, "legend": {"color": "independent"}},
      "layer": [
        {
          "data": {"name": "sgA"},
          "mark": {"type": "rule", "strokeWidth": 1.5},
          "encoding": {
            "x": {"field": "g", "type": "quantitative", "scale": {"domain": [0.125, 0.32], "nice": false, "zero": false}, "axis": null},
            "color": {"datum": "singularities", "type": "nominal", "scale": {"range": ["#c4c4c4"]},
              "legend": {"orient": "none", "legendX": 385, "legendY": 284, "symbolType": "stroke", "symbolSize": 3364, "symbolStrokeWidth": 1.5, "symbolStrokeColor": "#c4c4c4", "labelOffset": -74}}
          }
        },
        {
          "data": {"name": "simA"},
          "mark": {"type": "circle", "size": 15, "opacity": 1},
          "encoding": {
            "x": {"field": "g", "type": "quantitative", "scale": {"domain": [0.125, 0.32], "nice": false, "zero": false},
              "axis": {"orient": "top", "values": [0.125, 0.32], "labels": false, "title": null}},
            "y": {"field": "G", "type": "quantitative", "scale": {"domain": [0.75, 1], "nice": false, "zero": false},
              "axis": {"orient": "right", "values": [0.75, 1], "labels": false, "title": null}},
            "color": {"datum": "simulation", "type": "nominal", "scale": {"range": ["#000000"]},
              "legend": {"orient": "none", "legendX": 403, "legendY": 259.6, "symbolType": "circle", "symbolSize": 12, "symbolFillColor": "#000000", "symbolStrokeWidth": 0, "labelOffset": -54}}
          }
        },
        {
          "data": {"name": "thA"},
          "mark": {"type": "line", "strokeWidth": 3},
          "encoding": {
            "x": {"field": "g", "type": "quantitative", "scale": {"domain": [0.125, 0.32], "nice": false, "zero": false},
              "axis": {"orient": "bottom", "values": [0.125, 0.32], "format": ".3~f", "title": "γ", "titleFont": "DejaVu Sans", "titleFontSize": 23, "titleY": 57, "titleBaseline": "middle"}},
            "y": {"field": "G", "type": "quantitative", "scale": {"domain": [0.75, 1], "nice": false, "zero": false},
              "axis": {"orient": "left", "values": [0.75, 1], "format": ".2~f", "title": "G", "titleFontSize": 28, "titleX": -54, "titleBaseline": "middle"}},
            "color": {"datum": "theory", "type": "nominal", "scale": {"range": ["#ff0000"]},
              "legend": {"orient": "none", "legendX": 384.5, "legendY": 261.1, "symbolType": "stroke", "symbolSize": 3364, "symbolStrokeWidth": 3, "symbolStrokeColor": "#ff0000", "labelOffset": -74.5}}
          }
        }
      ]
    },
    {
      "width": 480, "height": 325,
      "title": {"text": "(b)", "orient": "bottom", "anchor": "start", "frame": "group", "offset": 0, "dx": -64, "dy": -22},
      "resolve": {"scale": {"color": "independent"}, "legend": {"color": "independent"}},
      "layer": [
        {
          "data": {"name": "bandB"},
          "mark": {"type": "rect", "color": "#bebebe"},
          "encoding": {
            "x": {"field": "g0", "type": "quantitative", "scale": {"domain": [-0.125, 0.125], "nice": false, "zero": false}, "axis": null},
            "x2": {"field": "g1"}
          }
        },
        {
          "data": {"name": "sgB"},
          "mark": {"type": "rule", "strokeWidth": 1, "color": "#d6d6d6"},
          "encoding": {
            "x": {"field": "g", "type": "quantitative", "scale": {"domain": [-0.125, 0.125], "nice": false, "zero": false}, "axis": null}
          }
        },
        {
          "data": {"name": "simB"},
          "mark": {"type": "circle", "size": 15, "opacity": 1},
          "encoding": {
            "x": {"field": "g", "type": "quantitative", "scale": {"domain": [-0.125, 0.125], "nice": false, "zero": false},
              "axis": {"orient": "top", "values": [-0.125, 0, 0.125], "labels": false, "title": null}},
            "y": {"field": "G", "type": "quantitative", "scale": {"domain": [0.25, 0.75], "nice": false, "zero": false},
              "axis": {"orient": "right", "values": [0.3, 0.7], "labels": false, "title": null}},
            "color": {"datum": "simulation", "type": "nominal", "scale": {"range": ["#000000"]},
              "legend": {"orient": "none", "legendX": 414.3, "legendY": 275.3, "symbolType": "circle", "symbolSize": 12, "symbolFillColor": "#000000", "symbolStrokeWidth": 0, "labelOffset": -53.3}}
          }
        },
        {
          "data": {"name": "thB"},
          "mark": {"type": "line", "strokeWidth": 3},
          "encoding": {
            "x": {"field": "g", "type": "quantitative", "scale": {"domain": [-0.125, 0.125], "nice": false, "zero": false},
              "axis": {"orient": "bottom", "values": [-0.125, 0, 0.125], "labelExpr": "datum.value < 0 ? '-' + format(-datum.value, '.3~f') : format(datum.value, '.3~f')", "title": "γ", "titleFont": "DejaVu Sans", "titleFontSize": 23, "titleY": 50, "titleBaseline": "middle"}},
            "y": {"field": "G", "type": "quantitative", "scale": {"domain": [0.25, 0.75], "nice": false, "zero": false},
              "axis": {"orient": "left", "values": [0.3, 0.7], "format": ".1f", "title": "G", "titleFontSize": 28, "titleX": -36, "titleBaseline": "middle"}},
            "color": {"datum": "theory", "type": "nominal", "scale": {"range": ["#ff0000"]},
              "legend": {"orient": "none", "legendX": 395.5, "legendY": 278.3, "symbolType": "stroke", "symbolSize": 3364, "symbolStrokeWidth": 3, "symbolStrokeColor": "#ff0000", "labelOffset": -73.5}}
          }
        }
      ]
    },
    {
      "width": 482, "height": 338,
      "title": {"text": "(c)", "orient": "bottom", "anchor": "start", "frame": "group", "offset": 0, "dx": -64, "dy": -22},
      "resolve": {"scale": {"color": "independent"}, "legend": {"color": "independent"}},
      "layer": [
        {
          "data": {"name": "sgC"},
          "mark": {"type": "rule", "strokeWidth": 1.5},
          "encoding": {
            "x": {"field": "g", "type": "quantitative", "scale": {"domain": [-0.41, -0.125], "nice": false, "zero": false}, "axis": null},
            "color": {"datum": "singularities", "type": "nominal", "scale": {"range": ["#c4c4c4"]},
              "legend": {"orient": "none", "legendX": 204, "legendY": 35.6, "symbolType": "stroke", "symbolSize": 3364, "symbolStrokeWidth": 1.5, "symbolStrokeColor": "#c4c4c4", "labelOffset": -73.2}}
          }
        },
        {
          "data": {"name": "simC"},
          "mark": {"type": "circle", "size": 15, "opacity": 1},
          "encoding": {
            "x": {"field": "g", "type": "quantitative", "scale": {"domain": [-0.41, -0.125], "nice": false, "zero": false},
              "axis": {"orient": "top", "values": [-0.4, -0.125], "labels": false, "title": null}},
            "y": {"field": "G", "type": "quantitative", "scale": {"domain": [0, 0.25], "nice": false, "zero": false},
              "axis": {"orient": "right", "values": [0, 0.25], "labels": false, "title": null}},
            "color": {"datum": "simulation", "type": "nominal", "scale": {"range": ["#000000"]},
              "legend": {"orient": "none", "legendX": 223, "legendY": 10.3, "symbolType": "circle", "symbolSize": 12, "symbolFillColor": "#000000", "symbolStrokeWidth": 0, "labelOffset": -54.2}}
          }
        },
        {
          "data": {"name": "thC"},
          "mark": {"type": "line", "strokeWidth": 3},
          "encoding": {
            "x": {"field": "g", "type": "quantitative", "scale": {"domain": [-0.41, -0.125], "nice": false, "zero": false},
              "axis": {"orient": "bottom", "values": [-0.4, -0.125], "labelExpr": "datum.value < 0 ? '-' + format(-datum.value, '.3~f') : format(datum.value, '.3~f')", "title": "γ", "titleFont": "DejaVu Sans", "titleFontSize": 23, "titleY": 59, "titleBaseline": "middle"}},
            "y": {"field": "G", "type": "quantitative", "scale": {"domain": [0, 0.25], "nice": false, "zero": false},
              "axis": {"orient": "left", "values": [0, 0.25], "format": ".2~f", "title": "G", "titleFontSize": 28, "titleX": -47, "titleBaseline": "middle"}},
            "color": {"datum": "theory", "type": "nominal", "scale": {"range": ["#ff0000"]},
              "legend": {"orient": "none", "legendX": 203.5, "legendY": 12.5, "symbolType": "stroke", "symbolSize": 3364, "symbolStrokeWidth": 3, "symbolStrokeColor": "#ff0000", "labelOffset": -73.7}}
          }
        }
      ]
    }
  ]
}
